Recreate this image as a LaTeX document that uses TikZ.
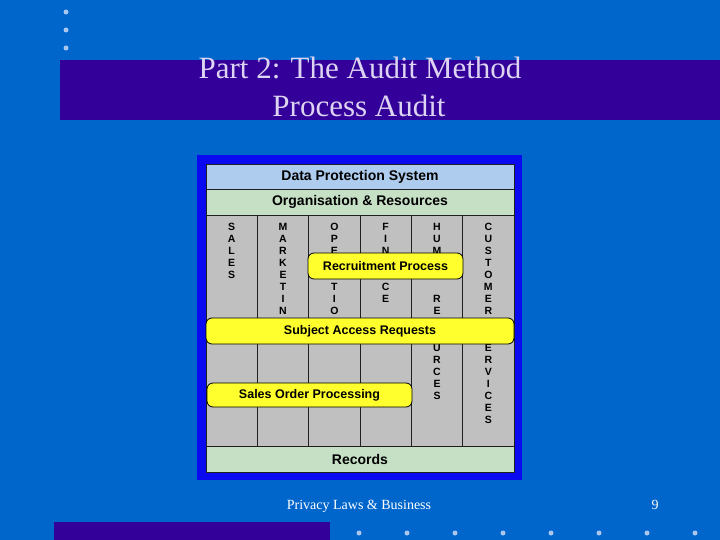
\documentclass[tikz,border=0pt]{standalone}
\usepackage{fontspec}
\setmainfont{Liberation Serif}
\setsansfont{Liberation Sans}
\usepackage{xcolor}
\definecolor{slide}{HTML}{0066CC}
\definecolor{banner}{HTML}{330099}
\definecolor{titletxt}{HTML}{DCD4F2}
\definecolor{dotblue}{HTML}{A9C6EE}
\definecolor{framblue}{HTML}{0A0AF0}
\definecolor{dpsblue}{HTML}{AECCEE}
\definecolor{orggreen}{HTML}{C5E0C5}
\definecolor{colgrey}{HTML}{C0C0C0}
\definecolor{barfill}{HTML}{FFFF2E}
\definecolor{rule}{HTML}{202020}
\tikzset{
  band/.style={draw=rule, line width=0.7pt, minimum width=308pt, inner sep=0pt, text=black, font=\sffamily\bfseries\fontsize{14}{16}\selectfont},
  procbar/.style={draw=black, fill=barfill, rounded corners=6pt, line width=0.8pt, inner sep=0pt, text=black, font=\sffamily\bfseries\fontsize{12.5}{14}\selectfont},
  vlet/.style={anchor=base, inner sep=0pt, text=black, font=\sffamily\bfseries\fontsize{10.5}{12}\selectfont},
  divline/.style={draw=rule, line width=0.7pt},
  bullet/.style={circle, fill=dotblue, inner sep=0pt, minimum size=5pt},
  titletext/.style={anchor=base, text=titletxt, font=\fontsize{31}{38}\selectfont},
  foottext/.style={anchor=base, text=white, font=\fontsize{14}{16}\selectfont}
}
\begin{document}
\begin{tikzpicture}[x=1pt,y=-1pt]
  \fill[slide] (0,0) rectangle (720,540);
  \useasboundingbox (0,0) rectangle (720,540);

  % banners and bullets
  \fill[banner] (60,60) rectangle (720,120);
  \fill[banner] (54,522) rectangle (330,540);
  \foreach \y in {12,30,48}
    \node[bullet] (dot-\y) at (66,\y) {};
  \foreach \k in {0,...,7}
    \node[bullet] (foot-\k) at (359+48*\k,533) {};

  \node[titletext] (title1) at (360,79) {Part 2: The Audit Method};
  \node[titletext] (title2) at (359,117) {Process Audit};

  % audit diagram
  \fill[framblue] (197,155) rectangle (522,480);
  \node[band, fill=dpsblue, minimum height=25pt] (dps) at (360,176.5) {Data Protection System};
  \node[band, fill=orggreen, minimum height=26pt] (org) at (360,202) {Organisation \& Resources};
  \node[band, fill=colgrey, minimum height=231pt] (cols) at (360,330.5) {};
  \node[band, fill=orggreen, minimum height=26pt] (rec) at (360,459) {Records};

  \foreach \k in {1,...,5}
    \draw[divline] (206+51.333*\k,215) -- (206+51.333*\k,446);

  \foreach \col/\start/\letters in {1/0/{S,A,L,E,S}, 2/0/{M,A,R,K,E,T,I,N},
      3/0/{O,P,E}, 3/5/{T,I,O}, 4/0/{F,I,N}, 4/5/{C,E},
      5/0/{H,U,M}, 5/6/{R,E}, 5/10/{U,R,C,E,S},
      6/0/{C,U,S,T,O,M,E,R}, 6/10/{E,R,V,I,C,E,S}}
    \foreach \l [count=\i from \start] in \letters
      \node[vlet] (let-\col-\i) at ({206+51.333*(\col-0.5)},{230+12.1*\i}) {\l};

  \node[procbar, minimum width=155pt, minimum height=26pt] (recruit) at (385.5,266) {Recruitment Process};
  \node[procbar, minimum width=308pt, minimum height=26pt] (sar) at (360,331) {Subject Access Requests};
  \node[procbar, minimum width=205pt, minimum height=24pt] (sop) at (309.5,395) {Sales Order Processing};

  \node[foottext] (footer) at (359,509) {Privacy Laws \& Business};
  \node[foottext] (pageno) at (655,509) {9};
\end{tikzpicture}
\end{document}
